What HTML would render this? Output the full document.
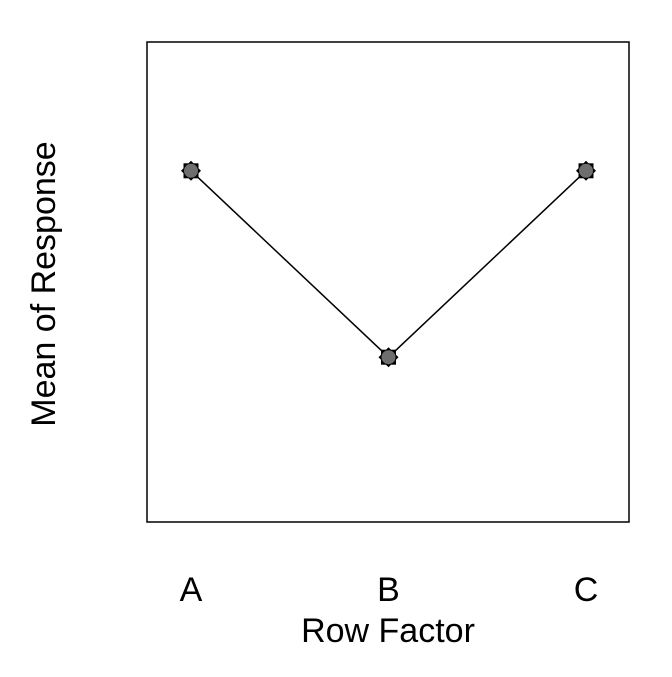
<!DOCTYPE html>
<html><head><meta charset="utf-8"><style>
body{margin:0;background:#fff}
svg text{font-family:"Liberation Sans",Arial,sans-serif;fill:#000}
</style></head><body>
<svg id="chart" width="672" height="672" viewBox="0 0 672 672" xmlns="http://www.w3.org/2000/svg">
<rect x="147" y="42" width="482" height="480" fill="none" stroke="#000" stroke-width="1.5"/>
<g id="xt"></g>
<text x="388" y="642" font-size="34" text-anchor="middle">Row Factor</text>
<text transform="translate(55,284) rotate(-90)" font-size="34" text-anchor="middle">Mean of Response</text>
<g id="marks"></g>
</svg>
<script>
const categories = ["A","B","C"];
const means = [4.39, 2.06, 4.39];
const yMin = 0, yMax = 6;
const NS = "http://www.w3.org/2000/svg";
function xScale(i){ return 191 + i * 197.5; }
function yScale(v){ return 522 - (v - yMin) / (yMax - yMin) * 480; }
const xt = document.getElementById('xt');
categories.forEach((c,i)=>{
  const t = document.createElementNS(NS,'text');
  t.setAttribute('x', xScale(i)); t.setAttribute('y', 601);
  t.setAttribute('font-size','34'); t.setAttribute('text-anchor','middle');
  t.textContent = c;
  
  
  xt.appendChild(t);
});
const g = document.getElementById('marks');
const line = document.createElementNS(NS,'polyline');
line.setAttribute('points', means.map((v,i)=>xScale(i)+','+yScale(v)).join(' '));
line.setAttribute('fill','none'); line.setAttribute('stroke','#000'); line.setAttribute('stroke-width','1.5');


g.appendChild(line);
means.forEach((v,i)=>{
  const x = xScale(i), y = yScale(v);
  const p = document.createElementNS(NS,'g');
  
  
  const sq = document.createElementNS(NS,'rect');
  sq.setAttribute('x', x-7.5); sq.setAttribute('y', y-7.5); sq.setAttribute('width',15); sq.setAttribute('height',15);
  sq.setAttribute('fill','#000');
  const dm = document.createElementNS(NS,'polygon');
  dm.setAttribute('points', `${x},${y-10} ${x+10},${y} ${x},${y+10} ${x-10},${y}`);
  dm.setAttribute('fill','#000');
  const c = document.createElementNS(NS,'circle');
  c.setAttribute('cx',x); c.setAttribute('cy',y); c.setAttribute('r',7);
  c.setAttribute('fill','#6e6e6e');
  p.appendChild(sq); p.appendChild(dm); p.appendChild(c);
  g.appendChild(p);
});
</script>
</body></html>
